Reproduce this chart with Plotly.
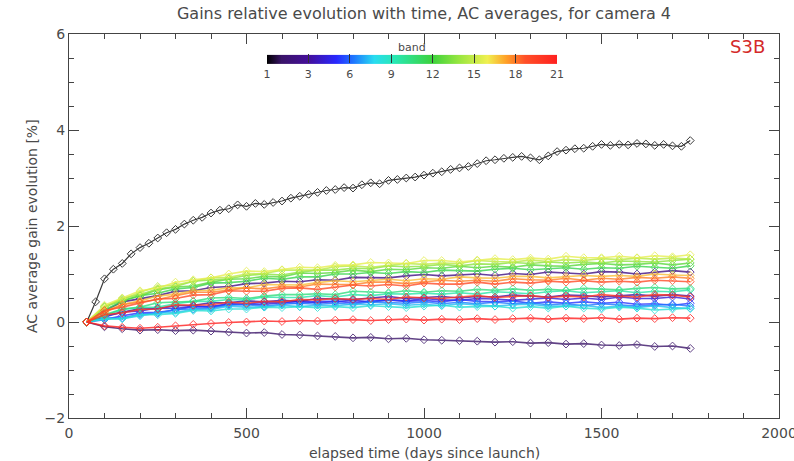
import plotly.graph_objects as go
from plotly.colors import sample_colorscale

title_text = "Gains relative evolution with time, AC averages, for camera 4"
x_title = "elapsed time (days since launch)"
y_title = "AC average gain evolution [%]"
mission_label = "S3B"

# elapsed days for band 1 (denser sampling)
days_b1 = [50, 75, 100, 125, 150, 175, 200, 225, 250, 275, 300, 325, 350, 375, 400, 425, 450, 475,
           500, 525, 550, 575, 600, 625, 650, 675, 700, 725, 750, 775, 800, 825, 850, 875, 900, 925,
           950, 975, 1000, 1025, 1050, 1075, 1100, 1125, 1150, 1175, 1200, 1225, 1250, 1275, 1300,
           1325, 1350, 1375, 1400, 1425, 1450, 1475, 1500, 1525, 1550, 1575, 1600, 1625, 1650, 1675,
           1700, 1725, 1750]
band_01 = [0.00, 0.42, 0.90, 1.10, 1.22, 1.42, 1.55, 1.64, 1.75, 1.86, 1.93, 2.04, 2.12, 2.18, 2.27,
           2.33, 2.36, 2.44, 2.41, 2.47, 2.45, 2.49, 2.52, 2.58, 2.62, 2.66, 2.70, 2.74, 2.76, 2.80,
           2.79, 2.86, 2.90, 2.88, 2.95, 2.97, 3.00, 3.02, 3.06, 3.10, 3.13, 3.18, 3.21, 3.24, 3.30,
           3.36, 3.38, 3.41, 3.43, 3.45, 3.42, 3.38, 3.46, 3.55, 3.58, 3.61, 3.62, 3.66, 3.70, 3.68,
           3.70, 3.69, 3.72, 3.71, 3.68, 3.70, 3.67, 3.66, 3.78]

# elapsed days for bands 2..21
days = [50, 100, 150, 200, 250, 300, 350, 400, 450, 500, 550, 600, 650, 700, 750, 800, 850, 900,
        950, 1000, 1050, 1100, 1150, 1200, 1250, 1300, 1350, 1400, 1450, 1500, 1550, 1600, 1650,
        1700, 1750]

band_02 = [0.00, -0.10, -0.14, -0.17, -0.16, -0.18, -0.17, -0.19, -0.21, -0.23, -0.22, -0.26, -0.27,
           -0.29, -0.30, -0.33, -0.32, -0.35, -0.34, -0.37, -0.38, -0.39, -0.40, -0.42, -0.41, -0.44,
           -0.43, -0.46, -0.45, -0.48, -0.49, -0.47, -0.51, -0.50, -0.55]
band_03 = [0.00, 0.23, 0.42, 0.48, 0.55, 0.64, 0.65, 0.72, 0.74, 0.80, 0.81, 0.85, 0.84, 0.88, 0.87,
           0.93, 0.92, 0.92, 0.96, 0.99, 0.96, 0.98, 1.00, 0.97, 1.01, 0.99, 1.04, 1.02, 1.00, 1.05,
           1.04, 1.00, 1.04, 1.07, 1.04]
band_04 = [0.00, 0.13, 0.20, 0.28, 0.28, 0.34, 0.35, 0.40, 0.40, 0.44, 0.42, 0.45, 0.43, 0.49, 0.48,
           0.47, 0.50, 0.53, 0.49, 0.51, 0.53, 0.50, 0.53, 0.52, 0.56, 0.54, 0.52, 0.56, 0.55, 0.52,
           0.55, 0.57, 0.54, 0.57, 0.54]
band_05 = [0.00, 0.11, 0.21, 0.23, 0.29, 0.28, 0.33, 0.32, 0.38, 0.37, 0.37, 0.40, 0.44, 0.40, 0.43,
           0.45, 0.42, 0.46, 0.44, 0.49, 0.46, 0.45, 0.49, 0.48, 0.45, 0.48, 0.50, 0.47, 0.50, 0.47,
           0.52, 0.49, 0.49, 0.52, 0.48]
band_06 = [0.00, 0.05, 0.13, 0.19, 0.20, 0.25, 0.32, 0.31, 0.37, 0.37, 0.42, 0.40, 0.39, 0.43, 0.43,
           0.40, 0.43, 0.46, 0.43, 0.45, 0.42, 0.47, 0.43, 0.42, 0.44, 0.39, 0.42, 0.39, 0.42, 0.39,
           0.41, 0.37, 0.38, 0.35, 0.39]
band_07 = [0.00, 0.08, 0.09, 0.16, 0.18, 0.26, 0.27, 0.29, 0.35, 0.36, 0.33, 0.37, 0.39, 0.37, 0.39,
           0.37, 0.42, 0.40, 0.39, 0.42, 0.38, 0.41, 0.38, 0.41, 0.38, 0.40, 0.36, 0.38, 0.34, 0.38,
           0.35, 0.33, 0.35, 0.37, 0.33]
band_08 = [0.00, 0.07, 0.07, 0.13, 0.19, 0.20, 0.26, 0.26, 0.33, 0.31, 0.31, 0.35, 0.32, 0.35, 0.34,
           0.37, 0.36, 0.38, 0.35, 0.37, 0.34, 0.38, 0.36, 0.33, 0.36, 0.37, 0.33, 0.33, 0.35, 0.30,
           0.33, 0.30, 0.34, 0.30, 0.28]
band_09 = [0.00, 0.06, 0.07, 0.15, 0.15, 0.18, 0.24, 0.23, 0.27, 0.27, 0.31, 0.30, 0.32, 0.30, 0.32,
           0.30, 0.34, 0.32, 0.30, 0.33, 0.35, 0.31, 0.32, 0.33, 0.29, 0.32, 0.29, 0.33, 0.29, 0.27,
           0.31, 0.29, 0.25, 0.27, 0.29]
band_10 = [0.00, 0.13, 0.26, 0.30, 0.31, 0.38, 0.43, 0.43, 0.47, 0.46, 0.52, 0.51, 0.51, 0.55, 0.52,
           0.57, 0.55, 0.59, 0.58, 0.60, 0.58, 0.61, 0.58, 0.63, 0.61, 0.59, 0.63, 0.65, 0.61, 0.63,
           0.65, 0.61, 0.64, 0.63, 0.67]
band_11 = [0.00, 0.15, 0.27, 0.31, 0.40, 0.41, 0.43, 0.50, 0.51, 0.49, 0.54, 0.57, 0.57, 0.59, 0.57,
           0.64, 0.62, 0.61, 0.65, 0.62, 0.65, 0.64, 0.68, 0.66, 0.69, 0.66, 0.68, 0.66, 0.70, 0.68,
           0.67, 0.70, 0.72, 0.69, 0.70]
band_12 = [0.00, 0.25, 0.43, 0.55, 0.60, 0.69, 0.72, 0.81, 0.82, 0.85, 0.91, 0.89, 0.94, 0.94, 1.00,
           1.00, 1.03, 1.01, 1.05, 1.03, 1.08, 1.07, 1.06, 1.10, 1.12, 1.09, 1.11, 1.13, 1.10, 1.13,
           1.12, 1.16, 1.14, 1.12, 1.17]
band_13 = [0.00, 0.32, 0.45, 0.54, 0.67, 0.73, 0.75, 0.83, 0.89, 0.90, 0.95, 0.94, 1.02, 1.01, 1.03,
           1.08, 1.05, 1.10, 1.09, 1.13, 1.12, 1.16, 1.13, 1.16, 1.14, 1.19, 1.17, 1.16, 1.20, 1.22,
           1.19, 1.20, 1.23, 1.19, 1.23]
band_14 = [0.00, 0.31, 0.49, 0.57, 0.69, 0.74, 0.85, 0.87, 0.90, 0.97, 1.00, 0.98, 1.04, 1.08, 1.08,
           1.12, 1.11, 1.17, 1.15, 1.16, 1.20, 1.17, 1.21, 1.20, 1.24, 1.22, 1.25, 1.23, 1.25, 1.23,
           1.27, 1.26, 1.25, 1.28, 1.31]
band_15 = [0.00, 0.32, 0.47, 0.62, 0.74, 0.77, 0.85, 0.92, 0.93, 1.00, 1.01, 1.08, 1.08, 1.08, 1.15,
           1.17, 1.14, 1.18, 1.22, 1.20, 1.23, 1.22, 1.28, 1.26, 1.25, 1.29, 1.26, 1.30, 1.28, 1.32,
           1.30, 1.33, 1.31, 1.33, 1.31]
band_16 = [0.00, 0.35, 0.50, 0.65, 0.71, 0.83, 0.88, 0.92, 1.00, 1.06, 1.05, 1.09, 1.14, 1.13, 1.18,
           1.19, 1.24, 1.23, 1.22, 1.28, 1.28, 1.25, 1.29, 1.32, 1.30, 1.33, 1.31, 1.37, 1.34, 1.34,
           1.37, 1.34, 1.38, 1.36, 1.40]
band_17 = [0.00, 0.22, 0.37, 0.44, 0.54, 0.58, 0.65, 0.66, 0.71, 0.71, 0.78, 0.77, 0.77, 0.82, 0.86,
           0.84, 0.86, 0.89, 0.86, 0.90, 0.89, 0.94, 0.92, 0.91, 0.95, 0.95, 0.92, 0.95, 0.97, 0.95,
           0.97, 0.95, 1.00, 0.98, 0.97]
band_18 = [0.00, 0.20, 0.36, 0.42, 0.47, 0.55, 0.62, 0.62, 0.66, 0.71, 0.69, 0.74, 0.73, 0.79, 0.78,
           0.78, 0.83, 0.83, 0.80, 0.84, 0.87, 0.85, 0.87, 0.85, 0.90, 0.88, 0.87, 0.91, 0.87, 0.91,
           0.89, 0.93, 0.91, 0.94, 0.91]
band_19 = [0.00, 0.24, 0.31, 0.40, 0.48, 0.49, 0.56, 0.57, 0.65, 0.64, 0.64, 0.70, 0.71, 0.68, 0.73,
           0.77, 0.75, 0.78, 0.75, 0.81, 0.79, 0.79, 0.83, 0.79, 0.83, 0.81, 0.85, 0.83, 0.86, 0.83,
           0.85, 0.83, 0.87, 0.86, 0.84]
band_20 = [0.00, 0.15, 0.19, 0.26, 0.27, 0.36, 0.35, 0.36, 0.41, 0.39, 0.43, 0.42, 0.47, 0.46, 0.49,
           0.47, 0.49, 0.47, 0.52, 0.50, 0.49, 0.52, 0.55, 0.51, 0.53, 0.55, 0.51, 0.54, 0.52, 0.57,
           0.54, 0.52, 0.57, 0.56, 0.52]
band_21 = [0.00, -0.08, -0.11, -0.13, -0.11, -0.08, -0.05, -0.03, -0.01, 0.00, 0.02, 0.01, 0.03, 0.02,
           0.04, 0.05, 0.03, 0.05, 0.06, 0.04, 0.06, 0.05, 0.07, 0.05, 0.07, 0.08, 0.06, 0.08, 0.07,
           0.09, 0.06, 0.08, 0.07, 0.09, 0.08]

band_numbers = list(range(1, 22))
band_series = [band_01, band_02, band_03, band_04, band_05, band_06, band_07, band_08, band_09,
               band_10, band_11, band_12, band_13, band_14, band_15, band_16, band_17, band_18,
               band_19, band_20, band_21]

band_colorscale = [
    [0.0, "#000000"], [0.05, "#3a1468"], [0.14, "#440e98"], [0.24, "#2828ff"], [0.30, "#1e78ff"],
    [0.37, "#28dcf0"], [0.44, "#28e8b4"], [0.57, "#3cd23c"], [0.66, "#96e640"],
    [0.76, "#f0f050"], [0.825, "#ffa028"], [0.89, "#ff5028"], [1.0, "#ff2020"],
]
cbar_tickvals = [1, 3.857, 6.714, 9.571, 12.429, 15.286, 18.143, 21]
cbar_ticktext = ["1", "3", "6", "9", "12", "15", "18", "21"]

FONT = "DejaVu Sans"
TXT = "#4a4a4a"

fig = go.Figure()
for b, vals in zip(band_numbers, band_series):
    xs = days_b1 if b == 1 else days
    col = sample_colorscale(band_colorscale, [(b - 1) / 20])[0]
    if b == 1:
        col = "#3a3a3a"
    fig.add_trace(go.Scatter(
        x=xs, y=vals, mode="lines+markers",
        line=dict(color=col, width=1.2 if b == 1 else 1.6),
        marker=dict(symbol="diamond-open", size=6, color=col, line=dict(width=1, color=col)),
        opacity=1.0 if b == 1 else 0.8,
        showlegend=False, hoverinfo="skip",
    ))

# colour bar for band
fig.add_trace(go.Scatter(
    x=[None], y=[None], mode="markers", showlegend=False, hoverinfo="skip",
    marker=dict(
        color=[1], cmin=1, cmax=21, colorscale=band_colorscale, showscale=True,
        colorbar=dict(
            orientation="h", x=0.483, xanchor="center", y=0.916, yanchor="middle",
            len=290, lenmode="pixels", thickness=9, thicknessmode="pixels",
            xpad=0, ypad=0, outlinewidth=0,
            tickvals=cbar_tickvals, ticktext=cbar_ticktext,
            ticks="inside", ticklen=9, tickcolor="#333", tickwidth=1,
            tickfont=dict(family=FONT, size=11, color=TXT),
            title=dict(text="band", side="top", font=dict(family=FONT, size=11, color=TXT)),
        ),
    ),
))

axis_common = dict(
    showline=True, linecolor="#444", linewidth=1, mirror="allticks",
    ticks="inside", ticklen=10, tickcolor="#444", tickwidth=1,
    showgrid=False, zeroline=False, ticklabeloverflow="allow", automargin=False,
    tickfont=dict(family=FONT, size=14, color=TXT),
)

fig.update_xaxes(range=[0, 2000], tick0=0, dtick=500,
                 minor=dict(dtick=100, ticks="inside", ticklen=5, tickcolor="#444"),
                 ticklabelstandoff=2, **axis_common)
fig.update_yaxes(range=[-2, 6], tick0=-2, dtick=2,
                 minor=dict(dtick=0.5, ticks="inside", ticklen=5, tickcolor="#444"),
                 ticklabelstandoff=0, **axis_common)

# axis titles
fig.add_annotation(text=x_title, xref="paper", yref="paper", x=0.5, y=-0.09,
                   xanchor="center", yanchor="middle", showarrow=False,
                   font=dict(family=FONT, size=14, color=TXT))
fig.add_annotation(text=y_title, xref="paper", yref="paper", x=-0.052, y=0.5, textangle=-90,
                   xanchor="center", yanchor="middle", showarrow=False,
                   font=dict(family=FONT, size=14, color=TXT))

fig.add_annotation(text=mission_label, xref="paper", yref="paper", x=0.955, y=0.968,
                   xanchor="center", yanchor="middle", showarrow=False,
                   font=dict(family=FONT, size=18, color="#d42a2a"))

fig.update_layout(
    width=794, height=461,
    margin=dict(l=69, r=15, t=34, b=43, autoexpand=False),
    paper_bgcolor="white", plot_bgcolor="white",
    title=dict(text=title_text, x=0.534, xanchor="center", y=0.972, yanchor="middle",
               font=dict(family=FONT, size=16, color=TXT)),
    font=dict(family=FONT, color=TXT),
)

fig.write_html("out.html")
